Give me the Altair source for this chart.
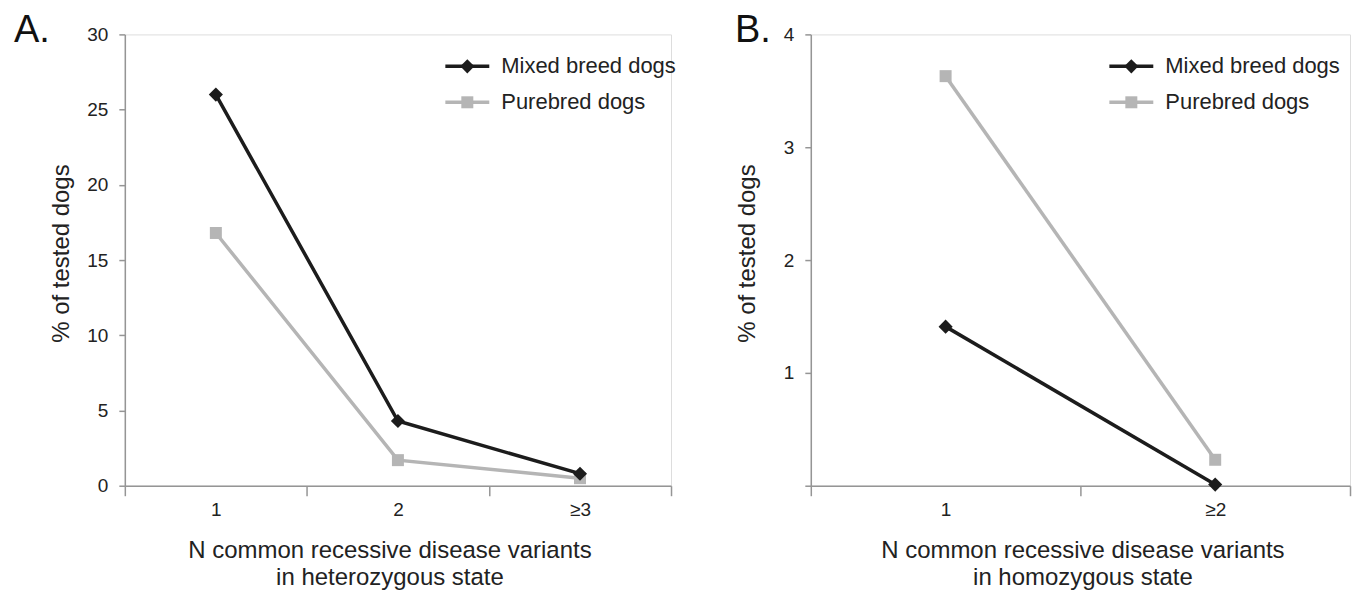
import altair as alt
import pandas as pd

# ---- data ----
series = ["Mixed breed dogs", "Purebred dogs"]
colors = ["#1c1c1c", "#b5b5b5"]
shapes = ["diamond", "square"]
sizes = [200, 144]

cats_a = ["1", "2", "≥3"]
mixed_a = [26.0, 4.3, 0.8]
pure_a = [16.8, 1.7, 0.5]

cats_b = ["1", "≥2"]
mixed_b = [1.41, 0.01]
pure_b = [3.63, 0.23]

yticks_a = [0, 5, 10, 15, 20, 25, 30]
yticks_b = [0, 1, 2, 3, 4]

ytitle = "% of tested dogs"
xtitle_a = ["N common recessive disease variants", "in heterozygous state"]
xtitle_b = ["N common recessive disease variants", "in homozygous state"]
letters = ["A.", "B."]

FONT = "Liberation Sans"
TXT = "#222222"
AX = "#959595"


def make_panel(cats, mixed, pure, yticks, xtitle, letter, width, height,
               legend_x, letter_x, letter_y, hide_zero, xtitle_x):
    df = pd.DataFrame({
        "cat": cats * 2,
        "series": [series[0]] * len(cats) + [series[1]] * len(cats),
        "value": mixed + pure,
    })
    x = alt.X(
        "cat:N", sort=cats,
        scale=alt.Scale(domain=cats, paddingInner=0, paddingOuter=0),
        axis=alt.Axis(
            title=xtitle, tickBand="extent", labelAngle=0, tickSize=10,
            labelPadding=5, labelFontSize=19, labelFont=FONT, labelColor=TXT,
            domainColor=AX, tickColor=AX, domainWidth=1.5, tickWidth=1.5,
            titleFont=FONT, titleFontSize=24, titleFontWeight="normal",
            titleColor=TXT, titleLineHeight=27, titleY=53, titleX=xtitle_x,
            titleBaseline="top",
        ),
    )
    label_expr = "datum.value == 0 ? '' : datum.label" if hide_zero else "datum.label"
    y = alt.Y(
        "value:Q",
        scale=alt.Scale(domain=[0, yticks[-1]], nice=False, zero=True),
        axis=alt.Axis(
            title=ytitle, values=yticks, grid=False, tickSize=6, labelPadding=11,
            labelFontSize=19, labelFont=FONT, labelColor=TXT, labelExpr=label_expr,
            domainColor=AX, tickColor=AX, domainWidth=1.5, tickWidth=1.5,
            titleFont=FONT, titleFontSize=24, titleFontWeight="normal",
            titleColor=TXT, titleX=-63, titleY=219, titleBaseline="middle",
            titleAlign="center", titleAngle=270,
        ),
    )
    color = alt.Color("series:N", scale=alt.Scale(domain=series, range=colors), legend=None)
    base = alt.Chart(df).encode(x=x, y=y, color=color)

    layers = []
    for i in [1, 0]:
        sub = base.transform_filter(alt.datum.series == series[i])
        layers.append(sub.mark_line(strokeWidth=3.5))
        layers.append(sub.mark_point(filled=True, opacity=1, shape=shapes[i], size=sizes[i]))

    # legend drawn as marks
    leg = pd.DataFrame({"series": series})
    lx0, lx1, lxm, ltx = legend_x, legend_x + 44, legend_x + 22, legend_x + 56
    for i, s in enumerate(series):
        ly = 32 + 36 * i
        ld = alt.Chart(leg).transform_filter(alt.datum.series == s)
        layers.append(ld.mark_rule(strokeWidth=3.5, color=colors[i]).encode(
            x=alt.value(lx0), x2=alt.value(lx1), y=alt.value(ly)))
        layers.append(ld.mark_point(filled=True, opacity=1, shape=shapes[i],
                                    size=sizes[i], color=colors[i]).encode(
            x=alt.value(lxm), y=alt.value(ly)))
        layers.append(ld.mark_text(align="left", baseline="middle", fontSize=22,
                                   font=FONT, color=TXT).encode(
            x=alt.value(ltx), y=alt.value(ly), text="series:N"))

    lt = alt.Chart(pd.DataFrame({"letter": [letter]})).mark_text(
        align="left", baseline="alphabetic", fontSize=38, font=FONT, color="#111111"
    ).encode(x=alt.value(letter_x), y=alt.value(letter_y), text="letter:N")
    layers.append(lt)

    return alt.layer(*layers).properties(width=width, height=height)


pa = make_panel(cats_a, mixed_a, pure_a, yticks_a, xtitle_a, letters[0], 547, 452,
                legend_x=321, letter_x=-111, letter_y=8, hide_zero=False, xtitle_x=265)
pb = make_panel(cats_b, mixed_b, pure_b, yticks_b, xtitle_b, letters[1], 540, 452,
                legend_x=299, letter_x=-76, letter_y=8, hide_zero=True, xtitle_x=272)

chart = alt.hconcat(pa, pb, spacing=140, bounds="flush").properties(
    padding={"left": 5, "top": 3, "right": 0, "bottom": 0}
).configure_view(stroke=None).configure(background="white")

chart.save("out.html", embed_options={"renderer": "svg", "actions": False})
